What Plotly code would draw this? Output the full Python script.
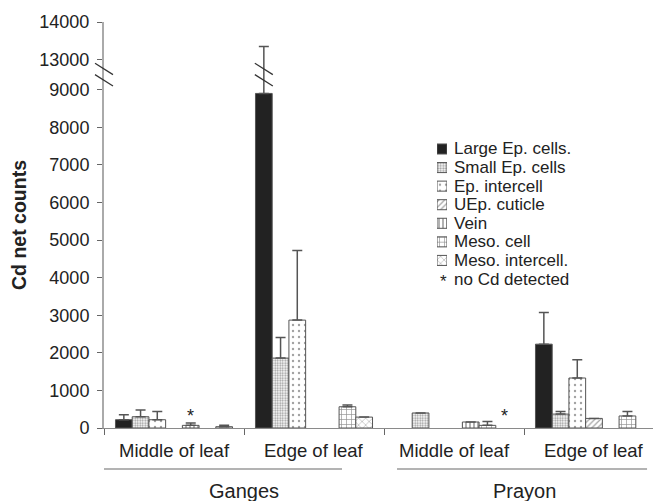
import plotly.graph_objects as go

# ---------------- data ----------------
group_labels = ["Middle of leaf", "Edge of leaf", "Middle of leaf", "Edge of leaf"]
site_labels = ["Ganges", "Prayon"]
site_centers = [0.5, 2.5]
site_spans = [[-0.607, 1.2], [1.593, 3.379]]
series_names = ["Large Ep. cells.", "Small Ep. cells", "Ep. intercell", "UEp. cuticle",
                "Vein", "Meso. cell", "Meso. intercell."]

large_ep = [220, 8900, None, 2230]
large_ep_err = [135, 4450, None, 840]
small_ep = [300, 1860, 400, 370]
small_ep_err = [180, 550, None, 70]
ep_intercell = [220, 2870, None, 1330]
ep_intercell_err = [220, 1850, None, 485]
uep_cuticle = [None, None, None, 255]
uep_cuticle_err = [None, None, None, None]
vein = [70, None, 160, None]
vein_err = [60, None, None, None]
meso_cell = [None, 565, 70, 320]
meso_cell_err = [None, 45, 100, 120]
meso_intercell = [35, 290, None, None]
meso_intercell_err = [35, None, None, None]

# "no Cd detected" markers: (group index, series slot)
star_group = [0, 2]
star_slot = [4, 6]

y_tick_values = [0, 1000, 2000, 3000, 4000, 5000, 6000, 7000, 8000, 9000, 13000, 14000]
break_low = 9000
break_shift = 3200  # 13000 drawn where 9800 would be

values = [large_ep, small_ep, ep_intercell, uep_cuticle, vein, meso_cell, meso_intercell]
errors = [large_ep_err, small_ep_err, ep_intercell_err, uep_cuticle_err, vein_err,
          meso_cell_err, meso_intercell_err]

# ---------------- styles ----------------
patterns = [
    dict(shape=""),
    dict(shape=".", size=2.5, solidity=0.45, fgcolor="#333333", bgcolor="white"),
    dict(shape=".", size=6, solidity=0.12, fgcolor="#444444", bgcolor="white"),
    dict(shape="/", size=4, solidity=0.3, fgcolor="#444444", bgcolor="white"),
    dict(shape="|", size=4, solidity=0.35, fgcolor="#222222", bgcolor="white"),
    dict(shape="+", size=5, solidity=0.25, fgcolor="#222222", bgcolor="white"),
    dict(shape="x", size=5, solidity=0.2, fgcolor="#444444", bgcolor="white"),
]
colors = ["#222222"] + ["white"] * 6
FONT = "Liberation Sans, Arial, sans-serif"

OFF = 8  # page body margin
W, H = 661 - OFF, 501 - OFF
ML, MR, MT = 104 - OFF, 0, 22 - OFF
PH = 406
MB = H - MT - PH
PW = W - ML - MR
X_MIN, X_MAX = -0.5, -0.5 + PW / 140.0
Y_MAX = 10800
BARGAP = 0.164
slot_w = (1 - BARGAP) / 7


def disp(v):
    if v is None:
        return None
    return v if v <= break_low else v - break_shift


def px_x(p):  # page pixel -> paper x
    return (p - OFF - ML) / PW


def px_y(p):  # page pixel -> paper y
    return (OFF + MT + PH - p) / PH


fig = go.Figure()
gx = list(range(len(group_labels)))
for i, name in enumerate(series_names):
    ys = [disp(v) for v in values[i]]
    plus = []
    for v, e in zip(values[i], errors[i]):
        plus.append(None if (v is None or e is None) else disp(v + e) - disp(v))
    fig.add_trace(go.Bar(
        x=gx, y=ys, name=name, showlegend=False,
        marker=dict(color=colors[i], pattern=patterns[i],
                    line=dict(color="#555555", width=1)),
        error_y=dict(type="data", symmetric=False, array=plus,
                     arrayminus=[0] * len(plus), color="#555555",
                     thickness=1.5, width=5),
    ))

# custom legend on a helper axis
for i, name in enumerate(series_names):
    fig.add_trace(go.Bar(
        x=[1], y=[i], orientation="h", xaxis="x2", yaxis="y2", showlegend=False,
        width=0.54, offset=-0.27,
        marker=dict(color=colors[i], pattern=patterns[i],
                    line=dict(color="#555555", width=1)),
        hoverinfo="skip",
    ))

annotations = []
for i, name in enumerate(series_names):
    annotations.append(dict(x=px_x(452), xref="paper", y=i, yref="y2", text=name,
                            showarrow=False, xanchor="left", yanchor="middle",
                            font=dict(size=17, color="#222222", family=FONT)))
annotations.append(dict(x=px_x(449), xref="paper", y=7.15, yref="y2", text="*",
                        showarrow=False, xanchor="right", yanchor="middle",
                        font=dict(size=17, color="#222222", family=FONT)))
annotations.append(dict(x=px_x(452), xref="paper", y=7, yref="y2", text="no Cd detected",
                        showarrow=False, xanchor="left", yanchor="middle",
                        font=dict(size=17, color="#222222", family=FONT)))

# asterisks in the plot
for g, s in zip(star_group, star_slot):
    annotations.append(dict(x=g + (s - 3) * slot_w, xref="x", y=330, yref="y", text="*",
                            showarrow=False, xanchor="center", yanchor="middle",
                            font=dict(size=18, color="#222222", family=FONT)))

# group labels
for g, lab in enumerate(group_labels):
    annotations.append(dict(x=g, xref="x", y=px_y(450), yref="paper", text=lab,
                            showarrow=False, xanchor="center", yanchor="middle",
                            font=dict(size=18.5, color="#222222", family=FONT)))
# site labels
for k, lab in enumerate(site_labels):
    annotations.append(dict(x=site_centers[k], xref="x", y=px_y(491), yref="paper",
                            text=lab, showarrow=False, xanchor="center", yanchor="middle",
                            font=dict(size=20, color="#222222", family=FONT)))

shapes = []
# site underlines
for k in range(len(site_labels)):
    shapes.append(dict(type="line", xref="x", yref="paper",
                       x0=site_spans[k][0], x1=site_spans[k][1],
                       y0=px_y(469), y1=px_y(469),
                       line=dict(color="#9a9a9a", width=1.5)))
# axis break marks on the y axis
brk_y = disp(break_low) + 400
for dy in (150, -150):
    shapes.append(dict(type="line", xref="paper", yref="y",
                       x0=-9 / PW, x1=9 / PW, y0=brk_y + dy + 150, y1=brk_y + dy - 150,
                       line=dict(color="#333333", width=1.2)))
# break marks on the truncated error bar
bx = 1 + (0 - 3) * slot_w
for dy in (150, -150):
    shapes.append(dict(type="line", xref="x", yref="y",
                       x0=bx - 9 / 140, x1=bx + 9 / 140, y0=brk_y + dy + 150,
                       y1=brk_y + dy - 150,
                       line=dict(color="#333333", width=1.2)))

fig.update_layout(
    width=W, height=H, autosize=False,
    margin=dict(l=ML, r=MR, t=MT, b=MB, pad=0),
    paper_bgcolor="white", plot_bgcolor="white",
    barmode="group", bargap=BARGAP, bargroupgap=0,
    font=dict(family=FONT, color="#222222"),
    xaxis=dict(range=[X_MIN, X_MAX], tickvals=[-0.5, 0.5, 1.5, 2.5], showticklabels=False,
               ticks="outside", ticklen=6, tickcolor="#666666", showgrid=False,
               zeroline=False, showline=True, linecolor="#8a8a8a", linewidth=1.2),
    yaxis=dict(range=[0, Y_MAX], tickvals=[disp(t) for t in y_tick_values],
               ticktext=[str(t) for t in y_tick_values], ticks="outside", ticklen=5,
               tickcolor="#666666", tickfont=dict(size=18, color="#222222"),
               showgrid=False, zeroline=False, showline=True, linecolor="#aaaaaa",
               linewidth=2, ticklabelstandoff=4,
               title=dict(text="<b>Cd net counts</b>", font=dict(size=19.5, color="#222222"),
                          standoff=10)),
    xaxis2=dict(domain=[px_x(437), px_x(447)], range=[0, 1], visible=False, anchor="y2",
                fixedrange=True),
    yaxis2=dict(domain=[px_y(288.3), px_y(139.7)], range=[7.5, -0.5], visible=False,
                anchor="x2", fixedrange=True),
    annotations=annotations,
    shapes=shapes,
)

fig.write_html("out.html")
